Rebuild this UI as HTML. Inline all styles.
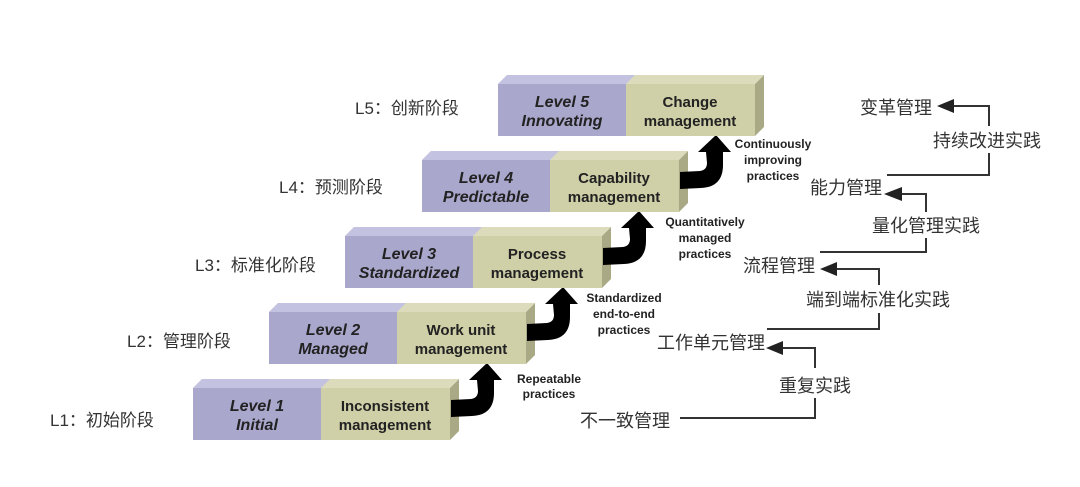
<!DOCTYPE html>
<html><head><meta charset="utf-8"><style>
body{margin:0;background:#fff;width:1080px;height:487px;overflow:hidden}
svg{display:block}
.lv{font-family:"Liberation Sans",sans-serif;font-style:italic;font-weight:bold;font-size:16px;fill:#222;text-anchor:middle}
.mg{font-family:"Liberation Sans",sans-serif;font-weight:bold;font-size:15px;fill:#222;text-anchor:middle}
.sm{font-family:"Liberation Sans",sans-serif;font-weight:bold;font-size:12px;fill:#222;text-anchor:middle}
.cj{font-family:"Liberation Sans","Noto Sans CJK SC",sans-serif;font-size:17px;fill:#333}
</style></head><body>
<svg width="1080" height="487" viewBox="0 0 1080 487">
<defs>
<g id="box">
  <polygon points="0,9 9,0 266,0 257,9" fill="#dcdcbc"/>
  <polygon points="0,9 9,0 137,0 128,9" fill="#c3c2e0"/>
  <rect x="0" y="9" width="128" height="52" fill="#a9a8cc"/>
  <rect x="128" y="9" width="129" height="52" fill="#cfcfa8"/>
  <polygon points="257,9 266,0 266,52 257,61" fill="#a9a985"/>
</g>
<path id="arr" d="M258,21 L278,20 Q285,19 285,12 L284,1 L276,1 L294,-16 L309,1 L301,1 L301,14 Q301,36 279,37 L258,38 Z" fill="#000"/>
</defs>
<g transform="translate(193,379)"><use href="#box"/><use href="#arr"/>
<text class="lv" x="64" y="32">Level 1</text><text class="lv" x="64" y="51">Initial</text>
<text class="mg" x="192" y="32">Inconsistent</text><text class="mg" x="192" y="51">management</text></g>
<g transform="translate(269,303)"><use href="#box"/><use href="#arr"/>
<text class="lv" x="64" y="32">Level 2</text><text class="lv" x="64" y="51">Managed</text>
<text class="mg" x="192" y="32">Work unit</text><text class="mg" x="192" y="51">management</text></g>
<g transform="translate(345,227)"><use href="#box"/><use href="#arr"/>
<text class="lv" x="64" y="32">Level 3</text><text class="lv" x="64" y="51">Standardized</text>
<text class="mg" x="192" y="32">Process</text><text class="mg" x="192" y="51">management</text></g>
<g transform="translate(422,151)"><use href="#box"/><use href="#arr"/>
<text class="lv" x="64" y="32">Level 4</text><text class="lv" x="64" y="51">Predictable</text>
<text class="mg" x="192" y="32">Capability</text><text class="mg" x="192" y="51">management</text></g>
<g transform="translate(498,75)"><use href="#box"/>
<text class="lv" x="64" y="32">Level 5</text><text class="lv" x="64" y="51">Innovating</text>
<text class="mg" x="192" y="32">Change</text><text class="mg" x="192" y="51">management</text></g>

<text class="sm" x="549" y="383">Repeatable</text><text class="sm" x="549" y="398">practices</text>
<text class="sm" x="624" y="302">Standardized</text><text class="sm" x="624" y="318">end-to-end</text><text class="sm" x="624" y="334">practices</text>
<text class="sm" x="705" y="226">Quantitatively</text><text class="sm" x="705" y="242">managed</text><text class="sm" x="705" y="258">practices</text>
<text class="sm" x="773" y="148">Continuously</text><text class="sm" x="773" y="164">improving</text><text class="sm" x="773" y="180">practices</text>

<text class="cj" x="355" y="114">L5：创新阶段</text>
<text class="cj" x="279" y="193">L4：预测阶段</text>
<text class="cj" x="195" y="271">L3：标准化阶段</text>
<text class="cj" x="127" y="347">L2：管理阶段</text>
<text class="cj" x="50" y="426">L1：初始阶段</text>

<g stroke="#333" stroke-width="2" fill="none">
<polyline points="952,106 989,106 989,126"/><polyline points="989,153 989,175 887,175"/>
<polyline points="900,194 926,194 926,212"/><polyline points="926,238 926,252 820,252"/>
<polyline points="835,269 879,269 879,285"/><polyline points="879,313 879,329 767,329"/>
<polyline points="780,348 815,348 815,368"/><polyline points="815,398 815,418 680,418"/>
</g>
<g fill="#222">
<polygon points="937,106 954,99 954,113"/>
<polygon points="884,194 902,187 902,201"/>
<polygon points="820,269 837,262 837,276"/>
<polygon points="766,348 783,341 783,355"/>
</g>
<g class="cj" style="font-size:18px">
<text x="860" y="114">变革管理</text>
<text x="933" y="147">持续改进实践</text>
<text x="810" y="194">能力管理</text>
<text x="872" y="232">量化管理实践</text>
<text x="743" y="272">流程管理</text>
<text x="806" y="306">端到端标准化实践</text>
<text x="657" y="349">工作单元管理</text>
<text x="779" y="392">重复实践</text>
<text x="580" y="427">不一致管理</text>
</g>
</svg>
</body></html>
